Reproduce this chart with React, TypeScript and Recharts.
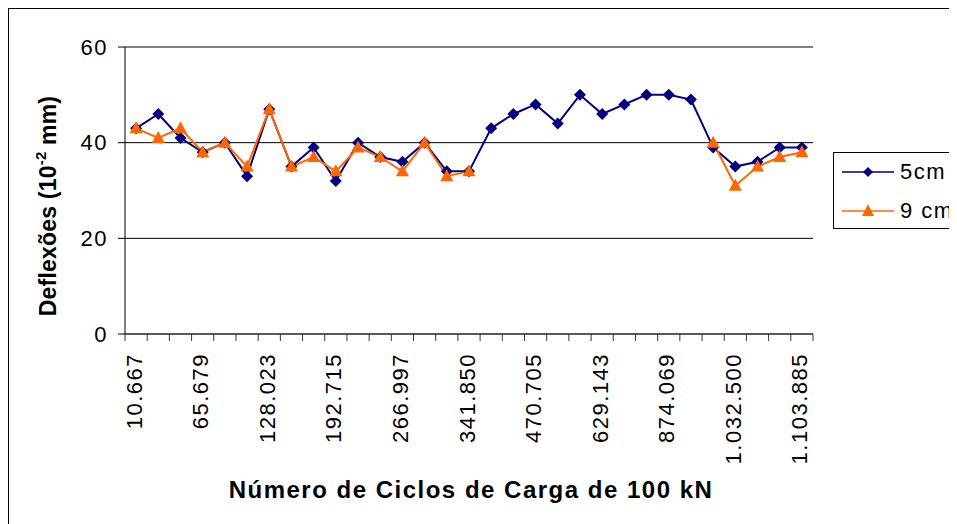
import React from "react";
import {
  CartesianGrid,
  Label,
  Legend,
  Line,
  LineChart,
  ReferenceLine,
  XAxis,
  YAxis,
} from "recharts";

const FONT = "'Liberation Sans', Arial, sans-serif";

// labels shown under every third cycle count
const tickLabels = [
  "10.667",
  "65.679",
  "128.023",
  "192.715",
  "266.997",
  "341.850",
  "470.705",
  "629.143",
  "874.069",
  "1.032.500",
  "1.103.885",
];

const defl5cm = [
  43, 46, 41, 38, 40, 33, 47, 35, 39, 32, 40, 37, 36, 40, 34, 34, 43, 46, 48,
  44, 50, 46, 48, 50, 50, 49, 39, 35, 36, 39, 39,
];

const defl9cm = [
  43, 41, 43, 38, 40, 35, 47, 35, 37, 34, 39, 37, 34, 40, 33, 34, null, null,
  null, null, null, null, null, null, null, null, 40, 31, 35, 37, 38,
];

const data = defl5cm.map((v, i) => ({
  idx: i,
  label: i % 3 === 0 ? tickLabels[i / 3] : "",
  s5: v,
  s9: defl9cm[i],
}));

const W = 948;
const H = 515;
const margin = { top: 38, right: 144, bottom: 0, left: 0 };
const Y_W = 116;
const BAND = (W - margin.left - margin.right - Y_W) / data.length;

function XTick(props: any) {
  const { x, y, index } = props;
  const half = BAND / 2;
  const label = data[index]?.label;
  const ty = y + 19;
  return (
    <g>
      <line x1={x - half} y1={y} x2={x - half} y2={y + 7} stroke="#333" />
      {index === data.length - 1 && (
        <line x1={x + half} y1={y} x2={x + half} y2={y + 7} stroke="#333" />
      )}
      {label && (
        <text
          x={x - 2}
          y={ty}
          transform={`rotate(-90 ${x - 2} ${ty})`}
          textAnchor="end"
          dominantBaseline="central"
          fontFamily={FONT}
          fontSize={22}
          letterSpacing={1.5}
          fill="#000"
        >
          {label}
        </text>
      )}
    </g>
  );
}

function Diamond(props: any) {
  const { cx, cy, value } = props;
  if (value == null || cx == null) return <g key={props.key} />;
  const r = 6;
  return (
    <path
      key={props.key}
      d={`M${cx},${cy - r}L${cx + r},${cy}L${cx},${cy + r}L${cx - r},${cy}Z`}
      fill="#000080"
    />
  );
}

function Triangle(props: any) {
  const { cx, cy, value } = props;
  if (value == null || cx == null) return <g key={props.key} />;
  return (
    <path
      key={props.key}
      d={`M${cx},${cy - 7}L${cx + 6.5},${cy + 5}L${cx - 6.5},${cy + 5}Z`}
      fill="#FF6600"
    />
  );
}

function LegendBox(props: any) {
  const items = props.payload || [];
  return (
    <div
      style={{
        position: "relative",
        width: 140,
        height: 75,
        border: "1px solid #000",
        background: "#fff",
        fontFamily: FONT,
        fontSize: 22,
        letterSpacing: 1.5,
        color: "#000",
      }}
    >
      {items.map((it: any, i: number) => (
        <div
          key={it.value}
          style={{
            position: "absolute",
            left: 8,
            top: (i === 0 ? 19 : 58) - 12,
            height: 24,
            lineHeight: "24px",
            display: "flex",
            alignItems: "center",
            whiteSpace: "nowrap",
          }}
        >
          <svg width={52} height={16} style={{ marginRight: 6 }}>
            <line x1={0} y1={8} x2={52} y2={8} stroke={it.color} strokeWidth={1.5} />
            {i === 0 ? (
              <path d="M26,3L31,8L26,13L21,8Z" fill={it.color} />
            ) : (
              <path d="M26,1L32,13L20,13Z" fill={it.color} />
            )}
          </svg>
          <span>{it.value}</span>
        </div>
      ))}
    </div>
  );
}

export default function App() {
  return (
    <div
      style={{
        width: W,
        height: H,
        borderTop: "1px solid #000",
        borderLeft: "1px solid #000",
        overflow: "hidden",
        position: "relative",
        background: "#fff",
      }}
    >
      <LineChart width={W} height={H} data={data} margin={margin}>
        <CartesianGrid vertical={false} stroke="#000" />
        <ReferenceLine y={60} stroke="#808080" />
        <XAxis
          dataKey="idx"
          type="category"
          scale="band"
          height={190}
          interval={0}
          tickSize={0}
          tickMargin={0}
          tickLine={false}
          tick={<XTick />}
          axisLine={{ stroke: "#333" }}
        >
          <Label
            content={() => (
              <text
                x={462}
                y={489}
                textAnchor="middle"
                fontFamily={FONT}
                fontWeight="bold"
                fontSize={24}
                letterSpacing={1.5}
                fill="#000"
              >
                Número de Ciclos de Carga de 100 kN
              </text>
            )}
          />
        </XAxis>
        <YAxis
          domain={[0, 60]}
          ticks={[0, 20, 40, 60]}
          width={Y_W}
          tickSize={7}
          tickMargin={10}
          stroke="#000"
          tick={{ fill: "#000", fontSize: 22, fontFamily: FONT, letterSpacing: 1.5 }}
        >
          <Label
            content={() => (
              <text
                x={39}
                y={197}
                transform="rotate(-90 39 197)"
                textAnchor="middle"
                dominantBaseline="central"
                fontFamily={FONT}
                fontWeight="bold"
                fontSize={23}
                letterSpacing={0.2}
                fill="#000"
              >
                Deflexões (10
                <tspan fontSize={15} dy={-8}>
                  -2
                </tspan>
                <tspan dy={8}> mm)</tspan>
              </text>
            )}
          />
        </YAxis>
        <YAxis
          yAxisId="right"
          orientation="right"
          width={0}
          domain={[0, 60]}
          tick={false}
          tickLine={false}
          axisLine={{ stroke: "#808080" }}
        />
        <Legend
          layout="horizontal"
          verticalAlign="middle"
          align="center"
          wrapperStyle={{ left: 824, top: 143, width: 140 }}
          content={<LegendBox />}
        />
        <Line
          type="linear"
          dataKey="s5"
          name="5cm"
          stroke="#000080"
          strokeWidth={2}
          dot={<Diamond />}
          activeDot={false}
          isAnimationActive={false}
        />
        <Line
          type="linear"
          dataKey="s9"
          name="9 cm"
          stroke="#FF6600"
          strokeWidth={2}
          dot={<Triangle />}
          activeDot={false}
          isAnimationActive={false}
        />
      </LineChart>
    </div>
  );
}
